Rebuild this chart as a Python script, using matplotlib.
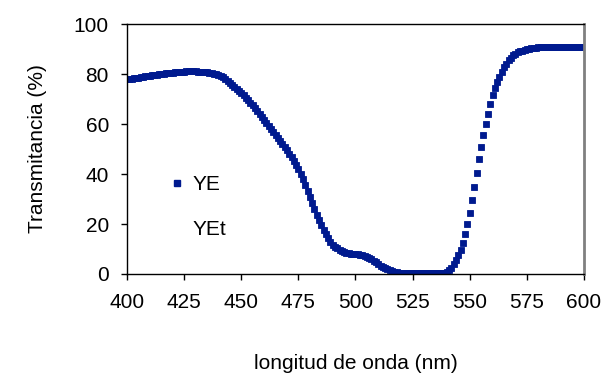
import numpy as np
import matplotlib.pyplot as plt
from matplotlib.lines import Line2D

# transmittance spectrum, 1 nm steps
wavelength = np.arange(400, 601)

trans_400_449 = [78.0, 78.1, 78.2, 78.3, 78.4, 78.6, 78.8, 79.0, 79.1, 79.2,
                 79.4, 79.6, 79.7, 79.8, 79.9, 80.1, 80.2, 80.3, 80.4, 80.5,
                 80.6, 80.7, 80.8, 80.9, 81.0, 81.0, 81.1, 81.1, 81.1, 81.1,
                 81.1, 81.0, 81.0, 80.9, 80.8, 80.7, 80.5, 80.3, 80.1, 79.9,
                 79.6, 79.2, 78.7, 78.1, 77.4, 76.5, 75.7, 74.9, 74.1, 73.3]
trans_450_499 = [72.6, 71.6, 70.6, 69.5, 68.5, 67.5, 66.3, 65.1, 63.9, 62.8,
                 61.6, 60.5, 59.4, 58.2, 57.0, 55.7, 54.5, 53.3, 52.1, 50.9,
                 49.6, 48.2, 46.8, 45.3, 43.8, 42.2, 40.2, 38.0, 35.7, 33.3,
                 30.9, 28.5, 26.1, 23.8, 21.7, 19.7, 17.8, 16.0, 14.4, 13.0,
                 11.8, 10.9, 10.2, 9.6, 9.1, 8.7, 8.4, 8.2, 8.1, 8.0]
trans_500_549 = [8.0, 7.9, 7.7, 7.5, 7.2, 6.9, 6.4, 5.9, 5.3, 4.7,
                 4.0, 3.3, 2.7, 2.2, 1.8, 1.5, 1.2, 0.9, 0.6, 0.4,
                 0.3, 0.2, 0.2, 0.2, 0.2, 0.2, 0.2, 0.2, 0.2, 0.2,
                 0.2, 0.2, 0.2, 0.2, 0.2, 0.2, 0.2, 0.2, 0.3, 0.5,
                 0.9, 1.5, 2.5, 3.8, 5.5, 7.5, 9.5, 12.5, 16.0, 20.0]
trans_550_600 = [24.5, 29.5, 35.0, 40.5, 46.0, 51.0, 55.5, 60.0, 64.0, 68.0,
                 71.5, 74.5, 77.0, 79.0, 81.0, 82.7, 84.2, 85.5, 86.6, 87.5,
                 88.2, 88.7, 89.1, 89.4, 89.7, 89.9, 90.1, 90.3, 90.5, 90.6,
                 90.7, 90.8, 90.9, 90.9, 90.9, 90.9, 90.9, 90.9, 90.9, 90.9,
                 90.9, 90.9, 90.9, 90.9, 90.9, 90.9, 90.9, 90.9, 90.9, 90.9,
                 90.9]
transmittance = trans_400_449 + trans_450_499 + trans_500_549 + trans_550_600

x_ticks = [400, 425, 450, 475, 500, 525, 550, 575, 600]
y_ticks = [0, 20, 40, 60, 80, 100]

plt.rcParams['font.family'] = ['Liberation Sans', 'DejaVu Sans']
plt.rcParams['font.size'] = 15

blue = '#001a8f'

fig = plt.figure(figsize=(6.03, 3.83), dpi=100)
ax = fig.add_axes([0.2106, 0.2846, 0.7579, 0.6527])

ax.plot(wavelength, transmittance, linestyle='none', marker='s',
        markersize=4.4, color=blue, markeredgewidth=0.6)

ax.set_xlim(400, 600)
ax.set_ylim(0, 100)
ax.set_xticks(x_ticks)
ax.set_yticks(y_ticks)
ax.tick_params(axis='both', direction='out', length=4, width=1, color='black')
ax.tick_params(axis='x', pad=10)
ax.tick_params(axis='y', pad=9)

for side in ['left', 'bottom', 'top']:
    ax.spines[side].set_color('black')
    ax.spines[side].set_linewidth(1)
ax.spines['right'].set_color('#808080')
ax.spines['right'].set_linewidth(2)

ax.set_xlabel('longitud de onda (nm)', labelpad=30)
ax.set_ylabel('Transmitancia (%)', labelpad=19)

handles = [Line2D([], [], linestyle='none', marker='s', markersize=4.4, color=blue),
           Line2D([], [], linestyle='none', marker='none')]
ax.legend(handles, ['YE', 'YEt'], loc='upper left',
          bbox_to_anchor=(0.0985, 0.396), frameon=False, borderpad=0,
          handlelength=0.5, handletextpad=0.5, labelspacing=1.25,
          borderaxespad=0)

fig.savefig('out.png', dpi=100)
